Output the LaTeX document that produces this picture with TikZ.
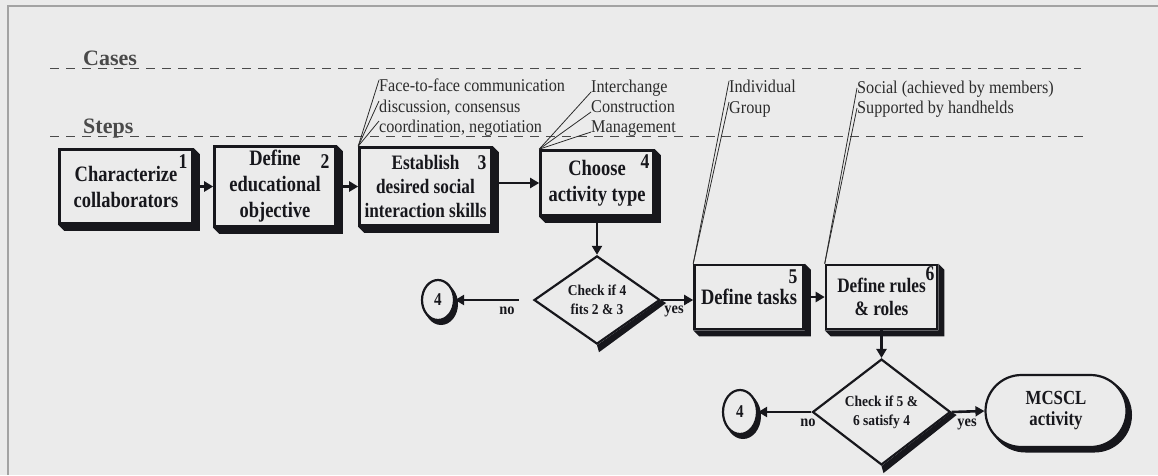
\documentclass[tikz,border=0pt]{standalone}
\usepackage{fontspec}
\setmainfont{Liberation Serif}
\newfontfamily\condbold[FakeStretch=0.84]{Liberation Serif}
\newfontfamily\condtext[FakeStretch=0.9]{Liberation Serif}
\usetikzlibrary{arrows.meta,shapes.geometric,shapes.misc,calc}
\pgfdeclarelayer{page}
\pgfdeclarelayer{background}
\pgfsetlayers{page,background,main}

\definecolor{bg}{HTML}{EBEBEB}
\definecolor{ink}{HTML}{17171C}
\definecolor{note}{HTML}{2C2C2C}
\definecolor{rulegray}{HTML}{4A4A4A}
\definecolor{framegray}{HTML}{A3A3A3}

\tikzset{
  stepbox/.style={draw=ink, line width=2.6pt, fill=bg, text=ink, align=center,
    inner sep=0pt, font=\condbold\bfseries\fontsize{22}{26}\selectfont},
  stepnum/.style={text=ink, inner sep=0pt, font=\condbold\bfseries\fontsize{21}{21}\selectfont},
  check/.style={diamond, draw=ink, line width=2.2pt, fill=bg, text=ink, align=center,
    inner sep=0pt, font=\condtext\bfseries\fontsize{15}{19}\selectfont},
  connector/.style={ellipse, draw=ink, line width=2.2pt, fill=bg, text=ink, inner sep=0pt,
    minimum width=32pt, minimum height=40pt, font=\condbold\bfseries\fontsize{18}{18}\selectfont},
  terminal/.style={rounded rectangle, draw=ink, line width=2.2pt, fill=bg, text=ink, align=center,
    inner sep=0pt, font=\condbold\bfseries\fontsize{20}{21}\selectfont},
  flow/.style={draw=ink, line width=2.6pt, -{Triangle[width=10pt,length=9pt]}},
  answer/.style={text=ink, inner sep=0pt, font=\condtext\bfseries\fontsize{16}{16}\selectfont},
  heading/.style={text=rulegray, inner sep=0pt, anchor=base west, font=\bfseries\fontsize{22}{22}\selectfont},
  notetext/.style={text=note, inner sep=0pt, anchor=base west, font=\condtext\fontsize{18}{20}\selectfont},
  noteline/.style={draw=note, line width=0.8pt},
  dashline/.style={draw=rulegray, line width=1.4pt, dash pattern=on 9pt off 7pt},
}

\newcommand\stepshadow[1]{%
  \fill[ink] (#1.south west) -- ++(6,6) -- ($(#1.south east)+(6,6)$)
    -- ($(#1.north east)+(6,6)$) -- (#1.north east) -- (#1.south east) -- cycle;}

\begin{document}
\begin{tikzpicture}[x=1pt,y=-1pt]
  % page and frame
  \useasboundingbox (0,0) rectangle (1158,475);
  \begin{pgfonlayer}{page}
    \fill[bg] (0,0) rectangle (1158,475);
    \draw[framegray, line width=1.5pt] (1158,6) -- (8,6) -- (8,475);
  \end{pgfonlayer}

  % swim lines
  \draw[dashline] (50,68.3) -- (1081,68.3);
  \draw[dashline] (50,136.7) -- (1087,136.7);
  \node[heading] (cases) at (83,65) {Cases};
  \node[heading] (steps) at (83,133) {Steps};

  % steps
  \node[stepbox, minimum width=133pt, minimum height=74pt] (b1) at (126,186.5) {Characterize\\collaborators};
  \node[stepbox, minimum width=121pt, minimum height=80pt] (b2) at (275,186.5) {Define\\educational\\objective};
  \node[stepbox, minimum width=132pt, minimum height=78pt,
        font=\condbold\bfseries\fontsize{20.5}{24}\selectfont] (b3) at (425.5,186.5) {Establish\\desired social\\interaction skills};
  \node[stepbox, minimum width=113pt, minimum height=65pt] (b4) at (597,183) {Choose\\activity type};
  \node[stepbox, minimum width=109pt, minimum height=64pt] (b5) at (749,297) {Define tasks};
  \node[stepbox, minimum width=111pt, minimum height=64pt,
        font=\condbold\bfseries\fontsize{20.5}{23}\selectfont] (b6) at (881.5,297) {Define rules\\\& roles};

  \node[stepnum] (n1) at (183,161.7) {1};
  \node[stepnum] (n2) at (325,161.7) {2};
  \node[stepnum] (n3) at (482,163) {3};
  \node[stepnum] (n4) at (645,161.7) {4};
  \node[stepnum] (n5) at (793,276.7) {5};
  \node[stepnum] (n6) at (930,274) {6};

  % decisions, connectors and end
  \node[check, minimum width=126pt, minimum height=80pt] (d1) at (597,300) {Check if 4\\fits 2 \& 3};
  \node[check, minimum width=138pt, minimum height=74pt] (d2) at (881.5,412) {Check if 5 \&\\6 satisfy 4};
  \node[connector] (c1) at (438,300) {4};
  \node[connector, minimum width=34pt, minimum height=44pt] (c2) at (740,412) {4};
  \node[terminal, minimum width=141pt, minimum height=72pt] (t) at (1056,411) {MCSCL\\activity};

  % shadows
  \begin{pgfonlayer}{background}
    \foreach \b in {b1,b2,b3,b4,b5,b6} {\stepshadow{\b}}
    \fill[ink] (d1.east) -- (d1.south) -- ++(2,7) -- ($(d1.east)+(5,3)$) -- cycle;
    \fill[ink] (d2.east) -- (d2.south) -- ++(2,7) -- ($(d2.east)+(5,3)$) -- cycle;
    \fill[ink] ($(c1)+(3,4)$) ellipse [x radius=17pt, y radius=21pt];
    \fill[ink] ($(c2)+(3,4)$) ellipse [x radius=18pt, y radius=23pt];
    \node[rounded rectangle, fill=ink, inner sep=0pt, minimum width=144pt, minimum height=75pt] (tshadow) at ($(t)+(4,4)$) {};
  \end{pgfonlayer}

  % flow
  \draw[flow] (b1.east) -- (b2.west);
  \draw[flow] (b2.east) -- (b3.west);
  \draw[flow, line width=2pt] (b3.east |- b4.west) -- (b4.west);
  \draw[flow] (b4.south) -- (d1.north);
  \draw[flow, line width=2pt] (d1.east) -- (d1.east -| b5.west);
  \draw[flow] ([xshift=-14pt]d1.west) -- (c1.east);
  \draw[flow] (b5.east) -- (b6.west);
  \draw[flow] (b6.south) -- (d2.north);
  \draw[flow] (d2.east) -- (t.west);
  \draw[flow] (d2.west) -- (c2.east);

  \node[answer] (no1) at (507,311) {no};
  \node[answer] (yes1) at (674,311) {yes};
  \node[answer] (no2) at (808,423) {no};
  \node[answer] (yes2) at (967,424) {yes};

  % case notes
  \node[notetext] (f1) at (379,91) {Face-to-face communication};
  \node[notetext] (f2) at (379,112) {discussion, consensus};
  \node[notetext] (f3) at (379,132) {coordination, negotiation};
  \node[notetext] (a1) at (591,92) {Interchange};
  \node[notetext] (a2) at (591,112) {Construction};
  \node[notetext] (a3) at (591,132) {Management};
  \node[notetext] (g1) at (729,92) {Individual};
  \node[notetext] (g2) at (729,113) {Group};
  \node[notetext] (s1) at (857,93) {Social (achieved by members)};
  \node[notetext] (s2) at (857,113) {Supported by handhelds};

  \foreach \n in {f1,f2,f3} {\draw[noteline] (b3.north west) -- ($(\n.base west)+(0,-11)$);}
  \foreach \n in {a1,a2,a3} {\draw[noteline] (b4.north west) -- (\n.base west);}
  \foreach \n in {g1,g2} {\draw[noteline] (b5.north west) -- ($(\n.base west)+(0,-11)$);}
  \foreach \n in {s1,s2} {\draw[noteline] (b6.north west) -- ($(\n.base west)+(0,-5)$);}
\end{tikzpicture}
\end{document}
